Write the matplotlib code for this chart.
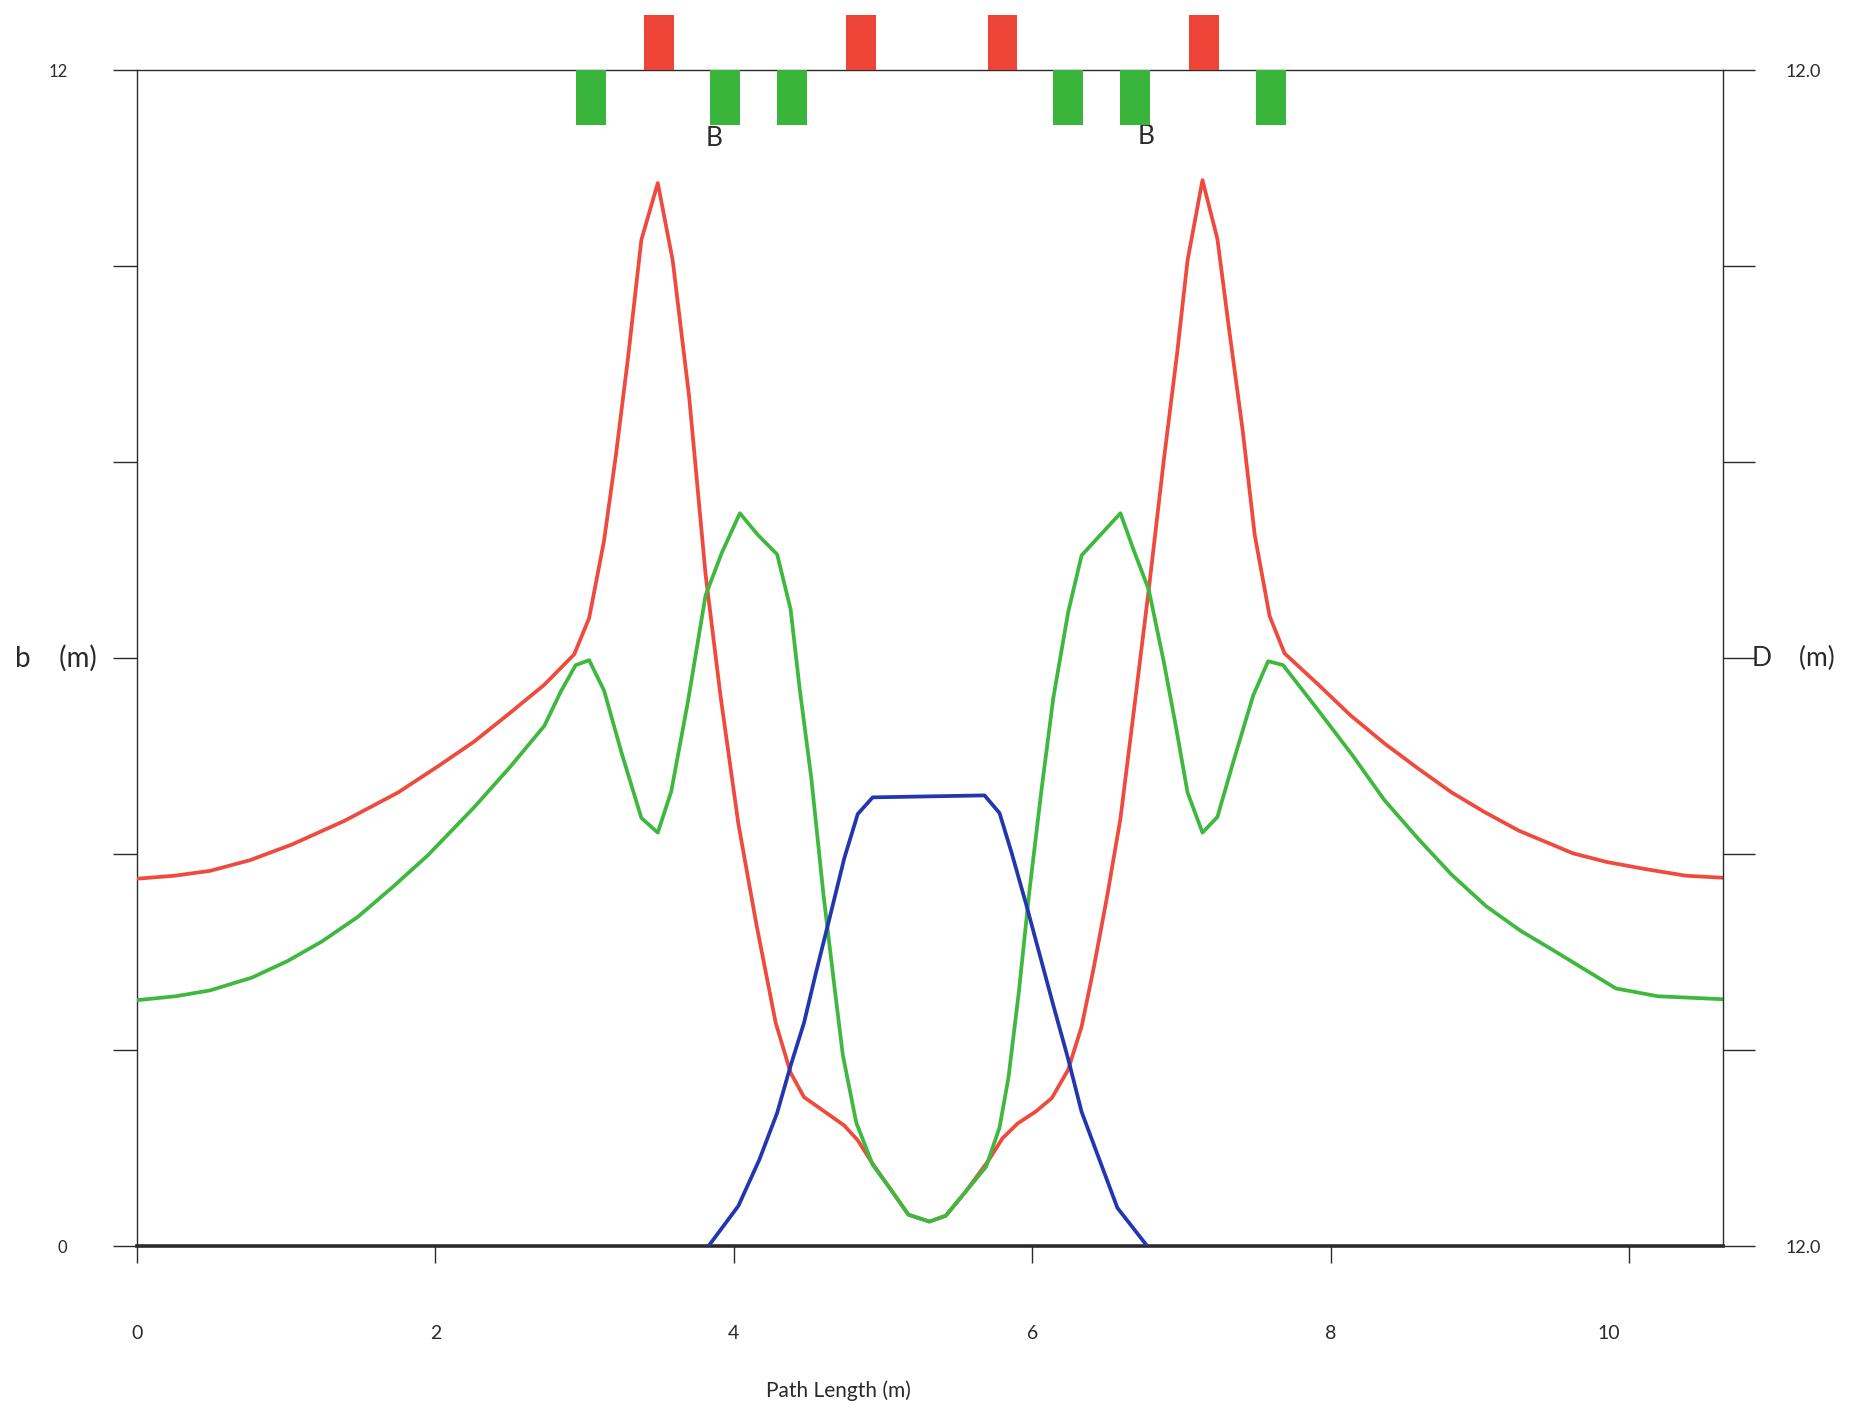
import matplotlib.pyplot as plt
from matplotlib.transforms import ScaledTranslation

plt.rcParams['font.family'] = ['Lato', 'DejaVu Sans']

# beta x (red)
s_bx = [0, 0.25, 0.49, 0.76, 1.04, 1.39, 1.75, 2.02, 2.26, 2.49, 2.73, 2.93, 3.03, 3.13,
        3.21, 3.29, 3.38, 3.49, 3.59, 3.70, 3.81, 3.91, 4.03, 4.15, 4.28, 4.38, 4.47, 4.61,
        4.74, 4.83, 4.93, 5.05, 5.17, 5.31, 5.42, 5.55, 5.70, 5.80, 5.90, 6.02, 6.13, 6.24,
        6.33, 6.41, 6.50, 6.59, 6.68, 6.78, 6.88, 6.97, 7.04, 7.14, 7.24, 7.32, 7.41, 7.49,
        7.59, 7.69, 7.91, 8.13, 8.36, 8.58, 8.81, 9.03, 9.26, 9.48, 9.62, 9.85, 10.10, 10.38, 10.62]
beta_x = [3.75, 3.78, 3.83, 3.94, 4.10, 4.34, 4.63, 4.90, 5.15, 5.43, 5.73, 6.04, 6.41, 7.20,
          8.08, 9.06, 10.27, 10.85, 10.06, 8.67, 6.86, 5.62, 4.31, 3.29, 2.28, 1.77, 1.52, 1.37,
          1.23, 1.08, 0.84, 0.58, 0.32, 0.25, 0.31, 0.55, 0.86, 1.10, 1.25, 1.37, 1.51, 1.80,
          2.24, 2.83, 3.56, 4.36, 5.46, 6.70, 8.01, 9.11, 10.06, 10.88, 10.28, 9.34, 8.32, 7.26,
          6.43, 6.05, 5.74, 5.42, 5.13, 4.88, 4.63, 4.43, 4.24, 4.10, 4.01, 3.92, 3.85, 3.78, 3.76]

# beta y (green)
s_by = [0, 0.26, 0.49, 0.77, 1.01, 1.24, 1.48, 1.71, 1.95, 2.26, 2.50, 2.73, 2.84, 2.94,
        3.03, 3.13, 3.25, 3.38, 3.49, 3.58, 3.69, 3.81, 3.92, 4.04, 4.16, 4.29, 4.38, 4.44,
        4.52, 4.60, 4.68, 4.73, 4.82, 4.93, 5.05, 5.17, 5.31, 5.42, 5.55, 5.69, 5.78, 5.84,
        5.91, 5.98, 6.06, 6.14, 6.24, 6.33, 6.59, 6.68, 6.78, 6.88, 6.96, 7.04, 7.14, 7.24,
        7.35, 7.48, 7.58, 7.68, 7.91, 8.14, 8.36, 8.59, 8.81, 9.04, 9.27, 9.49, 9.63, 9.91,
        10.19, 10.62]
beta_y = [2.51, 2.55, 2.61, 2.74, 2.91, 3.11, 3.36, 3.66, 3.99, 4.48, 4.89, 5.31, 5.66, 5.93,
          5.98, 5.67, 5.02, 4.37, 4.22, 4.64, 5.54, 6.64, 7.08, 7.48, 7.26, 7.06, 6.50, 5.70,
          4.76, 3.59, 2.57, 1.95, 1.26, 0.83, 0.58, 0.32, 0.25, 0.31, 0.55, 0.81, 1.21, 1.72,
          2.60, 3.62, 4.64, 5.59, 6.47, 7.05, 7.48, 7.10, 6.70, 5.97, 5.32, 4.63, 4.22, 4.38,
          4.96, 5.62, 5.97, 5.93, 5.48, 5.02, 4.55, 4.15, 3.79, 3.47, 3.22, 3.02, 2.89, 2.63,
          2.55, 2.52]

# dispersion (blue)
s_d = [3.83, 4.03, 4.17, 4.29, 4.38, 4.47, 4.55, 4.64, 4.74, 4.83, 4.93, 5.68, 5.78, 5.86,
       5.96, 6.05, 6.14, 6.24, 6.33, 6.45, 6.57, 6.77]
disp = [0, 0.41, 0.88, 1.36, 1.84, 2.28, 2.79, 3.34, 3.96, 4.41, 4.58, 4.60, 4.42, 4.02,
        3.48, 2.97, 2.46, 1.91, 1.37, 0.88, 0.39, 0]

# lattice: dipoles above the line, quadrupoles below
dipole_s = [3.50, 4.85, 5.80, 7.15]
dipole_h = [0.57, 0.57, 0.57, 0.57]
quad_s = [3.04, 3.94, 4.39, 6.24, 6.69, 7.60]
quad_h = [0.56, 0.56, 0.56, 0.56, 0.56, 0.56]

x_ticks = [0, 2, 4, 6, 8, 10]
y_ticks = [0, 2, 4, 6, 8, 10, 12]
left_labels = ['0', '', '', '', '', '', '12']
right_labels = ['12.0', '', '', '', '', '', '12.0']

RED = '#ef4a3e'
GREEN = '#3fb83f'
BLUE = '#2336b0'
INK = '#2a2a2a'

fig = plt.figure(figsize=(18.51, 14.08), dpi=100)
ax = fig.add_axes([0.074, 0.115, 0.857, 0.835])
ax.set_xlim(0, 10.63)
ax.set_ylim(0, 12)

ax.plot(s_bx, beta_x, color=RED, lw=2.7, zorder=3)
ax.plot(s_by, beta_y, color=GREEN, lw=2.7, zorder=4)

ax.bar(dipole_s, dipole_h, width=0.2, bottom=12, color='#ee4438', clip_on=False, zorder=5)
ax.bar(quad_s, [-h for h in quad_h], width=0.2, bottom=12, color='#3ab53c', clip_on=False, zorder=5)

ax.text(3.87, 11.31, 'B', fontsize=19, ha='center', va='center', color=INK)
ax.text(6.76, 11.33, 'B', fontsize=19, ha='center', va='center', color=INK)

for side in ['left', 'top']:
    ax.spines[side].set_linewidth(1.0)
    ax.spines[side].set_color(INK)
ax.spines['bottom'].set_linewidth(2.6)
ax.spines['bottom'].set_color(INK)
ax.spines['right'].set_visible(False)

ax.set_xticks(x_ticks)
ax.set_xticklabels([str(t) for t in x_ticks])
ax.tick_params(axis='x', direction='out', length=12, width=1, pad=45, labelsize=14, colors=INK)
# the "10" label sits a little left of its tick in the original
lab10 = ax.xaxis.get_major_ticks()[-1].label1
lab10.set_transform(lab10.get_transform() + ScaledTranslation(-0.2, 0, fig.dpi_scale_trans))
ax.set_yticks(y_ticks)
ax.set_yticklabels(left_labels)
ax.tick_params(axis='y', direction='out', length=17, width=1, pad=33, labelsize=12, colors=INK)

ax2 = ax.twinx()
ax2.set_ylim(0, 12)
ax2.plot(s_d, disp, color=BLUE, lw=2.7, zorder=3)
for side in ['left', 'top', 'bottom']:
    ax2.spines[side].set_visible(False)
ax2.spines['right'].set_linewidth(1.0)
ax2.spines['right'].set_color(INK)
ax2.set_yticks(y_ticks)
ax2.set_yticklabels(right_labels)
ax2.tick_params(axis='y', direction='out', length=23, width=1, pad=22, labelsize=13, colors=INK)

ax.annotate('b    (m)', xy=(0.008, 6), xycoords=('figure fraction', 'data'),
            fontsize=20, ha='left', va='center', color=INK, annotation_clip=False)
ax.annotate('D    (m)', xy=(0.9465, 6), xycoords=('figure fraction', 'data'),
            fontsize=19, ha='left', va='center', color=INK, annotation_clip=False)
fig.text(0.4527, 0.012, 'Path Length (m)', fontsize=15, ha='center', va='center', color=INK)

fig.savefig('out.png', dpi=100, facecolor='white')
